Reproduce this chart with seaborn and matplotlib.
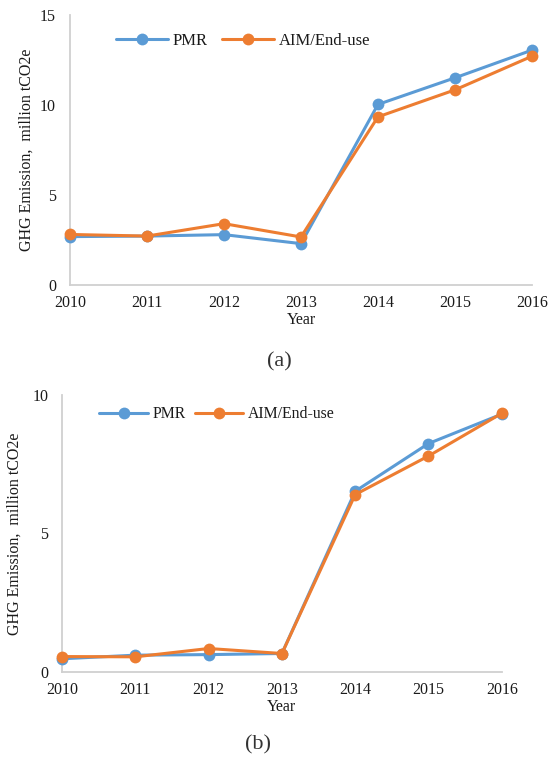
import matplotlib
matplotlib.use("Agg")
import matplotlib.pyplot as plt
import seaborn as sns
import pandas as pd

years = [2010, 2011, 2012, 2013, 2014, 2015, 2016]

# Panel (a)
pmr_a = [2.69, 2.72, 2.80, 2.30, 10.04, 11.52, 13.06]
aim_a = [2.81, 2.72, 3.41, 2.67, 9.35, 10.85, 12.72]

# Panel (b)
pmr_b = [0.48, 0.61, 0.63, 0.67, 6.52, 8.24, 9.30]
aim_b = [0.56, 0.55, 0.85, 0.67, 6.40, 7.79, 9.33]

series_names = ["PMR", "AIM/End-use"]
colors = {"PMR": "#5B9BD5", "AIM/End-use": "#ED7D31"}

sns.set_theme(style="white")
plt.rcParams["font.family"] = ["Liberation Serif", "DejaVu Serif"]

FS = 11.5
TXT = "#1a1a1a"


def long_frame(pmr, aim):
    return pd.DataFrame({
        "Year": years * 2,
        "value": pmr + aim,
        "series": [series_names[0]] * len(years) + [series_names[1]] * len(years),
    })


def draw_panel(ax, pmr, aim, ymax, yticks, legend_anchor, label_x,
               leg_fs, leg_colsp):
    df = long_frame(pmr, aim)
    sns.lineplot(data=df, x="Year", y="value", hue="series", palette=colors,
                 marker="o", markersize=8.5, markeredgewidth=0, linewidth=2.2,
                 ax=ax, legend=True)
    for ln in ax.lines:
        ln.set_clip_on(False)
    ax.set_xlim(years[0], years[-1])
    ax.set_ylim(0, ymax)
    ax.set_xticks(years)
    ax.set_yticks(yticks)
    ax.tick_params(axis="both", length=0, labelsize=FS, colors=TXT)
    ax.tick_params(axis="x", pad=7)
    ax.tick_params(axis="y", pad=10)
    for s in ["top", "right"]:
        ax.spines[s].set_visible(False)
    for s in ["left", "bottom"]:
        ax.spines[s].set_color("#d0d0d0")
        ax.spines[s].set_linewidth(1.3)
        ax.spines[s].set_zorder(0)
    ax.set_xlabel("Year", fontsize=FS, labelpad=1, color=TXT)
    ax.set_ylabel("GHG Emission,  million tCO2e", fontsize=FS, color=TXT)
    ax.yaxis.set_label_coords(label_x, 0.5)
    ax.grid(False)
    leg = ax.legend(loc="center left", bbox_to_anchor=legend_anchor, ncol=2,
                    frameon=False, fontsize=leg_fs, handlelength=3.1,
                    columnspacing=leg_colsp, handletextpad=0.3,
                    borderaxespad=0, borderpad=0)
    for t in leg.get_texts():
        t.set_color(TXT)


fig = plt.figure(figsize=(5.49, 7.62), dpi=100)
ax_a = fig.add_axes([0.1275, 0.626, 0.8415, 0.354])
ax_b = fig.add_axes([0.113, 0.118, 0.801, 0.364])

draw_panel(ax_a, pmr_a, aim_a, 15, [0, 5, 10, 15], (0.10, 0.906), -0.077,
           12, 0.85)
draw_panel(ax_b, pmr_b, aim_b, 10, [0, 5, 10], (0.085, 0.93), -0.089,
           11.3, 0.55)

fig.text(0.508, 0.525, "(a)", fontsize=16, ha="center", va="center",
         family=["Liberation Serif"], color="#333333")
fig.text(0.470, 0.022, "(b)", fontsize=16, ha="center", va="center",
         family=["Liberation Serif"], color="#333333")

fig.savefig("out.png", dpi=100, facecolor="white")
